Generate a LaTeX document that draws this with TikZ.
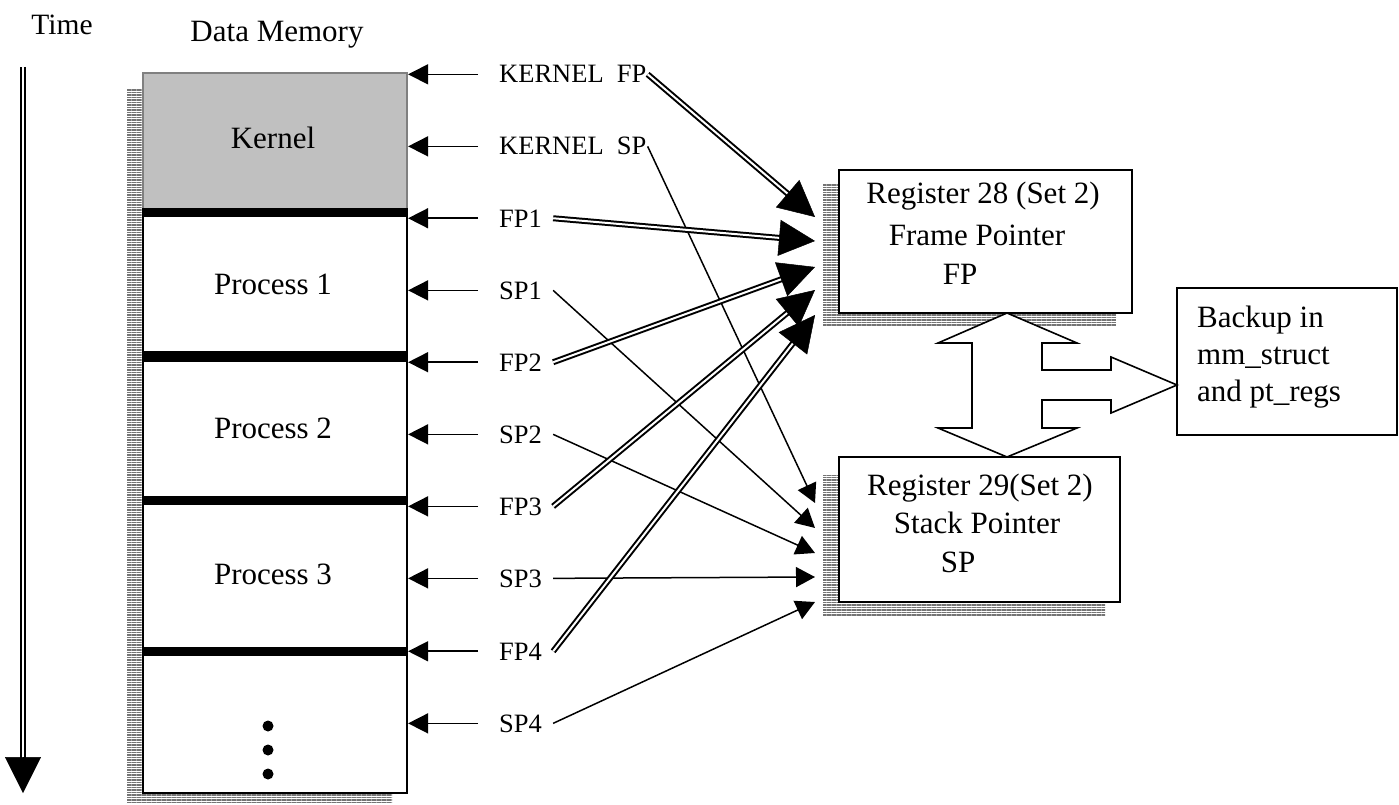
\documentclass[tikz,border=0pt]{standalone}
\usepackage{fontspec}
\setmainfont{Liberation Serif}
\usetikzlibrary{arrows.meta,patterns.meta,calc}
\definecolor{kernelfill}{HTML}{C0C0C0}
\definecolor{kerneledge}{HTML}{808080}
\definecolor{shadowgray}{HTML}{747474}
\begin{document}
\begin{tikzpicture}[x=1pt,y=-1pt,
  bigtext/.style={font=\fontsize{31}{37}\selectfont, inner sep=0pt, anchor=base},
  lbl/.style={font=\fontsize{26.5}{32}\selectfont, inner sep=0pt, anchor=base west},
  cell/.style={draw=black, line width=2.2pt, fill=white, minimum width=264pt, inner sep=0pt},
  regbox/.style={draw=black, line width=2.2pt, fill=white, inner sep=0pt},
  sepbar/.style={line width=9pt},
  ptr/.style={line width=1.6pt, -{Triangle[length=20pt,width=20pt]}},
  spline/.style={line width=1.5pt, -{Triangle[length=19pt,width=20pt]}},
  fpline/.style={line width=2pt, double=white, double distance=2pt, shorten >=34pt},
  bighead/.style={line width=0.5pt, -{Triangle[length=36pt,width=36pt]}},
  hatch/.style={pattern={Lines[angle=0,distance=2.5pt,line width=1.3pt]}, pattern color=shadowgray}]
\useasboundingbox (0,0) rectangle (1399,805);

% hatched drop shadows
\fill[hatch] (127,90) rectangle (392,803);
\fill[hatch] (823,185) rectangle (1116,326);
\fill[hatch] (823,475) rectangle (1105,616);

% headings
\node[font=\fontsize{29.5}{35}\selectfont, inner sep=0pt, anchor=base] (time) at (62,35) {Time};
\node[bigtext] (datamem) at (277,42) {Data Memory};

% time axis
\coordinate (tstart) at (23,67);
\coordinate (tend) at (23,793);
\draw[line width=2.4pt, double=white, double distance=2pt, shorten >=34pt] (tstart) -- (tend);
\draw[bighead] ($(tend)!10pt!(tstart)$) -- (tend);

% data memory column
\node[cell, fill=kernelfill, draw=kerneledge, minimum height=141pt] (kernel) at (275,143.5) {};
\node[cell, minimum height=144pt] (p1) at (275,286) {};
\node[cell, minimum height=144pt] (p2) at (275,430) {};
\node[cell, minimum height=151pt] (p3) at (275,577.5) {};
\node[cell, minimum height=140pt] (p4) at (275,723) {};
\draw[sepbar] (p1.north west) -- (p1.north east);
\draw[sepbar, line width=11pt] (p2.north west) -- (p2.north east);
\draw[sepbar] (p3.north west) -- (p3.north east);
\draw[sepbar] (p4.north west) -- (p4.north east);

\node[bigtext] (tkernel) at (273,149) {Kernel};
\node[bigtext] (tp1) at (273,294) {Process 1};
\node[bigtext] (tp2) at (273,438) {Process 2};
\node[bigtext] (tp3) at (273,584) {Process 3};
\fill (268,726) circle[radius=5.5pt];
\fill (268,750) circle[radius=5.5pt];
\fill (268,774) circle[radius=5.5pt];

% pointer labels
\node[lbl] (kfp) at (499,83) {KERNEL\ \ FP};
\node[lbl] (ksp) at (499,155) {KERNEL\ \ SP};
\node[lbl] (fp1) at (499,227) {FP1};
\node[lbl] (sp1) at (499,299) {SP1};
\node[lbl] (fp2) at (499,371) {FP2};
\node[lbl] (sp2) at (499,443) {SP2};
\node[lbl] (fp3) at (499,515) {FP3};
\node[lbl] (sp3) at (499,587) {SP3};
\node[lbl] (fp4) at (499,660) {FP4};
\node[lbl] (sp4) at (499,732) {SP4};

% label arrows into memory
\draw[ptr] ([xshift=-21pt]kfp.west) -- (kfp.west -| kernel.east);
\draw[ptr] ([xshift=-21pt]ksp.west) -- (ksp.west -| kernel.east);
\draw[ptr] ([xshift=-21pt]fp1.west) -- (fp1.west -| p1.east);
\draw[ptr] ([xshift=-21pt]sp1.west) -- (sp1.west -| p1.east);
\draw[ptr] ([xshift=-21pt]fp2.west) -- (fp2.west -| p2.east);
\draw[ptr] ([xshift=-21pt]sp2.west) -- (sp2.west -| p2.east);
\draw[ptr] ([xshift=-21pt]fp3.west) -- (fp3.west -| p3.east);
\draw[ptr] ([xshift=-21pt]sp3.west) -- (sp3.west -| p3.east);
\draw[ptr] ([xshift=-21pt]fp4.west) -- (fp4.west -| p4.east);
\draw[ptr] ([xshift=-21pt]sp4.west) -- (sp4.west -| p4.east);

% registers and backup
\node[regbox, minimum width=293pt, minimum height=143pt] (reg28) at (985.5,241.5) {};
\node[regbox, minimum width=281pt, minimum height=145pt] (reg29) at (979.5,529.5) {};
\node[regbox, line width=1.6pt, minimum width=220pt, minimum height=147pt] (backup) at (1287,361.5) {};

\node[bigtext] (r28a) at (983,204) {Register 28 (Set 2)};
\node[bigtext] (r28b) at (977,245) {Frame Pointer};
\node[bigtext] (r28c) at (960,284) {FP};
\node[bigtext] (r29a) at (980,495) {Register 29(Set 2)};
\node[bigtext] (r29b) at (977,533) {Stack Pointer};
\node[bigtext] (r29c) at (958,572) {SP};
\node[bigtext, anchor=base west] (b1) at (1197,327) {Backup in};
\node[bigtext, anchor=base west] (b2) at (1197,364) {mm\_struct};
\node[bigtext, anchor=base west] (b3) at (1197,401) {and pt\_regs};

% exchange block arrow between the registers and the backup
\draw[line width=1.6pt, fill=white]
  (1007,313) -- (1077,343) -- (1042,343) -- (1042,370) -- (1111,370) -- (1111,357)
  -- (1177,385) -- (1111,413) -- (1111,400) -- (1042,400) -- (1042,428) -- (1077,428)
  -- (1007,457) -- (938,428) -- (972,428) -- (972,343) -- (938,343) -- cycle;

% arrow targets beside the registers
\coordinate (f28a) at (815,217);
\coordinate (f28b) at (815,241);
\coordinate (f28c) at (815,267);
\coordinate (f28d) at (815,290);
\coordinate (f28e) at (815,315);
\coordinate (s29a) at (815,503);
\coordinate (s29b) at (815,528);
\coordinate (s29c) at (815,553);
\coordinate (s29d) at (815,577);
\coordinate (s29e) at (815,602);

% connector start points
\coordinate (skfp) at ([xshift=1pt]kfp.east);
\coordinate (sksp) at ([xshift=1pt]ksp.east);
\coordinate (sfp1) at ([xshift=11pt]fp1.east);
\coordinate (ssp1) at ([xshift=11pt]sp1.east);
\coordinate (sfp2) at ([xshift=11pt]fp2.east);
\coordinate (ssp2) at ([xshift=11pt]sp2.east);
\coordinate (sfp3) at ([xshift=11pt]fp3.east);
\coordinate (ssp3) at ([xshift=11pt]sp3.east);
\coordinate (sfp4) at ([xshift=11pt]fp4.east);
\coordinate (ssp4) at ([xshift=11pt]sp4.east);

% stack pointers to register 29
\draw[spline] (sksp) -- (s29a);
\draw[spline] (ssp1) -- (s29b);
\draw[spline] (ssp2) -- (s29c);
\draw[spline] (ssp3) -- (s29d);
\draw[spline] (ssp4) -- (s29e);

% frame pointers to register 28
\foreach \s/\t in {skfp/f28a, sfp1/f28b, sfp2/f28c, sfp3/f28d, sfp4/f28e}{
  \draw[fpline] (\s) -- (\t);
  \draw[bighead] ($(\t)!10pt!(\s)$) -- (\t);
}
\end{tikzpicture}
\end{document}
